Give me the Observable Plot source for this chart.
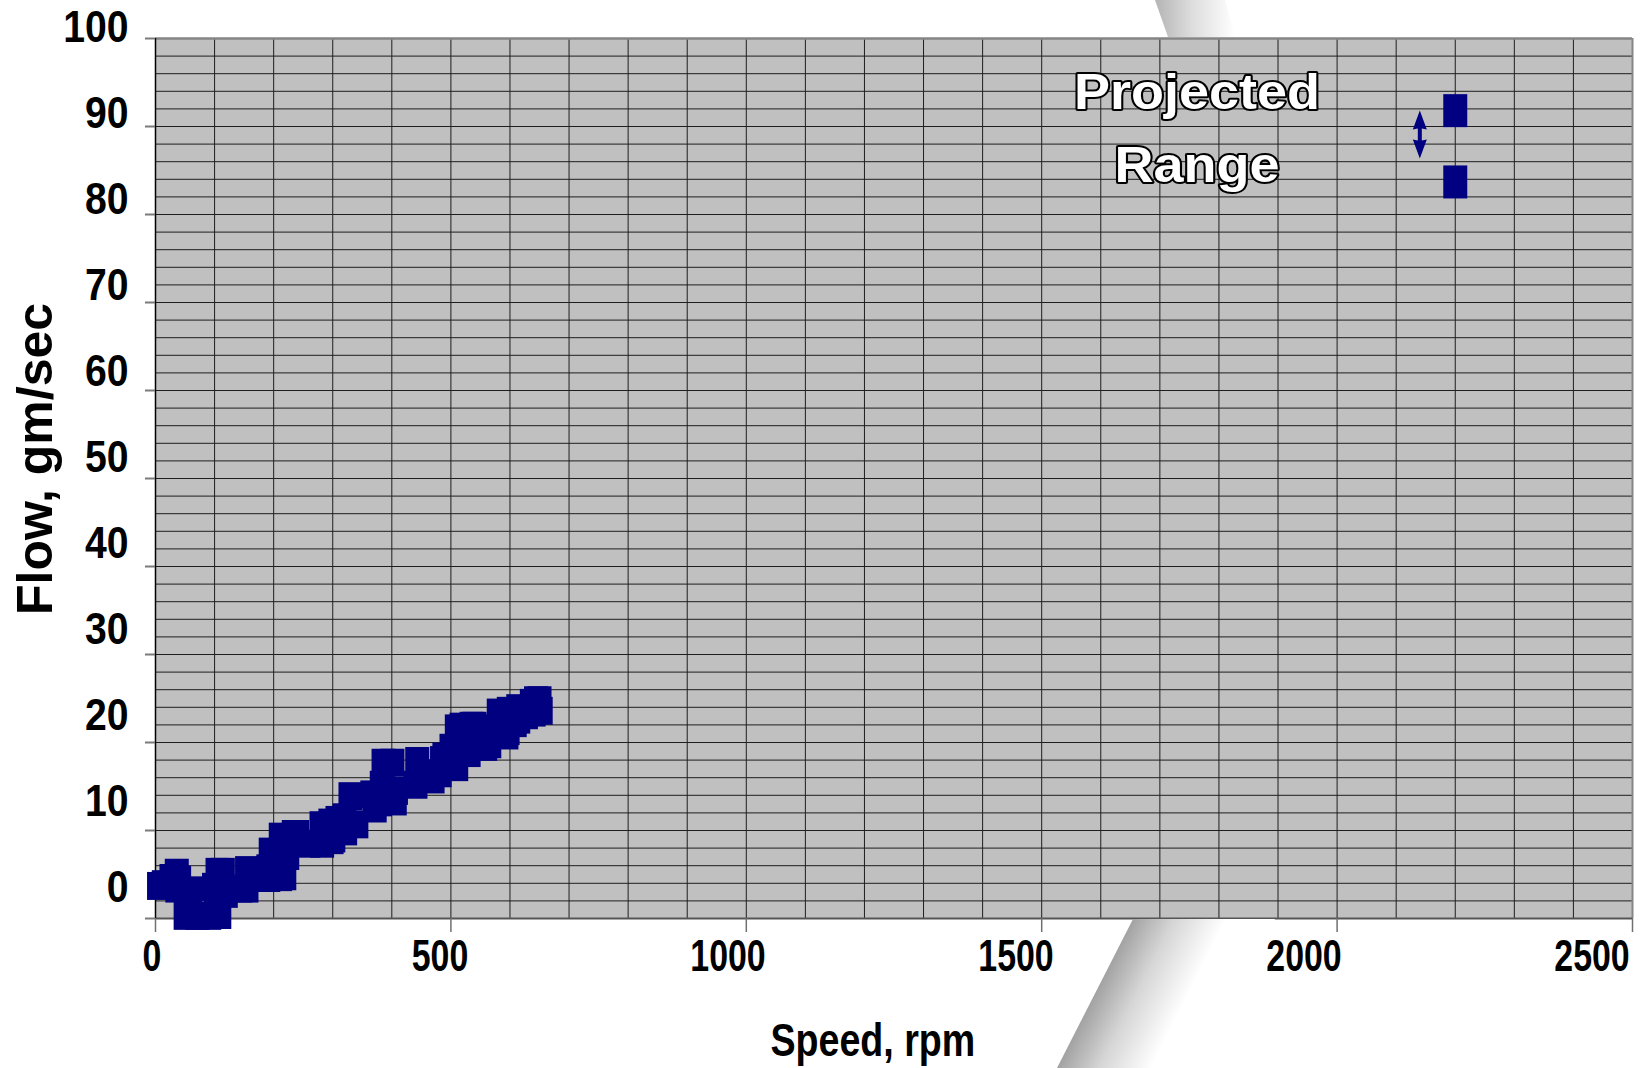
<!DOCTYPE html>
<html>
<head>
<meta charset="utf-8">
<script src="https://cdn.jsdelivr.net/npm/d3@7"></script>
<script src="https://cdn.jsdelivr.net/npm/@observablehq/plot@0.6"></script>
<style>
  html, body { margin: 0; padding: 0; background: #fff; overflow: hidden; }
  #wrap { position: relative; width: 1642px; height: 1068px; }
  #wrap svg { position: absolute; left: 0; top: 0; }
</style>
</head>
<body>
<div id="wrap"></div>
<script>
// ---- data ----
const speedRpm = [6, 14, 27, 36, 37, 40, 51, 59, 71, 91, 99, 102, 105, 108, 114, 119, 144, 154, 155,
  191, 191, 195, 203, 211, 212, 218, 223, 234, 240, 259, 281, 282, 296, 298, 301, 308, 320, 321,
  330, 340, 367, 371, 380, 383, 386, 401, 405, 407, 440, 443, 469, 481, 485, 489, 501, 509, 510,
  513, 518, 530, 535, 540, 558, 565, 570, 581, 594, 596, 598, 608, 614, 614, 627, 637, 640, 644, 650, 652];
const flowGmSec = [3.7, 3.9, 4.6, 5.2, 3.4, 4.4, 0.3, 3.2, 0.3, 0.3, 3.6, 2.8, 5.3, 0.4, 5.3, 2.8, 3.4, 3.4, 5.5,
  5.7, 4.6, 7.6, 6.9, 4.7, 9.3, 4.8, 7.1, 9.6, 9.6, 8.5, 10.6, 8.5, 10.9, 8.9, 9.1, 11.2, 11.5, 9.9,
  13.9, 10.7, 14.1, 12.5, 13.2, 15.2, 17.7, 17.7, 13.3, 14.5, 15.2, 17.9, 15.8, 16.5, 18.0, 18.4, 19.4, 17.2, 21.6,
  19.4, 21.8, 18.8, 21.9, 21.9, 19.5, 19.8, 21.6, 23.4, 20.8, 21.3, 23.6, 22.2, 23.9, 22.6, 23.1, 24.5, 23.4, 24.8, 24.8, 23.6];

const projectedRpm = [2200, 2200];
const projectedFlow = [91.8, 83.7];

const arrowRpm = [2140];
const arrowFlow = [89.1];

const noteText = ["Projected", "Range"];
const noteRpm = [1763, 1763];
const noteFlow = [93.8, 85.5];

const xTicks = [0, 500, 1000, 1500, 2000, 2500];
const yTicks = [0, 10, 20, 30, 40, 50, 60, 70, 80, 90, 100];
const xGrid = d3.range(0, 2501, 100);
const yGrid = d3.range(0, 101, 2);

const xTitle = ["Speed, rpm"];
const yTitle = ["Flow, gm/sec"];

// ---- tables built from the arrays ----
const measured = speedRpm.map((s, i) => ({rpm: s, flow: flowGmSec[i]}));
const projected = projectedRpm.map((s, i) => ({rpm: s, flow: projectedFlow[i]}));
const arrows = arrowRpm.map((s, i) => ({rpm: s, flow: arrowFlow[i]}));
const notes = noteText.map((t, i) => ({text: t, rpm: noteRpm[i], flow: noteFlow[i]}));

// ---- custom marker shapes ----
const smallMarker = {draw(ctx) { ctx.moveTo(-12, -14); ctx.lineTo(12, -14); ctx.lineTo(12, 14); ctx.lineTo(-12, 14); ctx.closePath(); }};
const bigMarker = {draw(ctx) { ctx.moveTo(-12, -16.5); ctx.lineTo(12, -16.5); ctx.lineTo(12, 16.5); ctx.lineTo(-12, 16.5); ctx.closePath(); }};
const doubleArrow = {draw(ctx) {
  ctx.moveTo(0, -24); ctx.lineTo(7, -5); ctx.lineTo(2, -6); ctx.lineTo(2, 6); ctx.lineTo(7, 5);
  ctx.lineTo(0, 24); ctx.lineTo(-7, 5); ctx.lineTo(-2, 6); ctx.lineTo(-2, -6); ctx.lineTo(-7, -5); ctx.closePath();
}};

const FONT = "'Liberation Sans', Arial, Helvetica, sans-serif";
const W = 1642, H = 1068;
const margins = {marginLeft: 155, marginRight: 10, marginTop: 38, marginBottom: 150};

const main = Plot.plot({
  width: W, height: H, ...margins,
  style: {background: "white", fontFamily: FONT},
  x: {domain: [0, 2500], label: null},
  y: {domain: [0, 100], label: null},
  marks: [
    Plot.frame({fill: "#c0c0c0", stroke: null}),
    Plot.gridX(xGrid, {stroke: "#1e1e1e", strokeOpacity: 1, strokeWidth: 1}),
    Plot.gridY(yGrid, {stroke: "#1e1e1e", strokeOpacity: 1, strokeWidth: 1}),
    Plot.ruleY([100], {stroke: "#858585", strokeWidth: 2.5}),
    Plot.ruleX([2500], {stroke: "#858585", strokeWidth: 2}),
    Plot.ruleY([0], {stroke: "#555", strokeWidth: 2}),
    Plot.ruleX([0], {stroke: "#000", strokeWidth: 1.5}),
    Plot.axisX(xTicks, {tickSize: 14, tickFormat: () => "", stroke: "#707070", strokeWidth: 1.5, label: null}),
    Plot.axisY(yTicks, {tickSize: 10, tickFormat: () => "", stroke: "#7a7a7a", strokeWidth: 2, label: null}),
    Plot.dot(measured, {x: "rpm", y: "flow", symbol: smallMarker, fill: "#000080", stroke: null}),
    Plot.dot(projected, {x: "rpm", y: "flow", symbol: bigMarker, fill: "#000080", stroke: null}),
    Plot.dot(arrows, {x: "rpm", y: "flow", symbol: doubleArrow, fill: "#000080", stroke: null}),
    Plot.text(notes, {x: "rpm", y: "flow", text: "text", fontSize: 50, fontWeight: "bold",
      fill: "white", stroke: "black", strokeWidth: 4, paintOrder: "stroke", strokeLinejoin: "round",
      textAnchor: "middle", lineAnchor: "middle"}),
    Plot.text(xTitle, {text: d => d, frameAnchor: "bottom-left", textAnchor: "start", lineAnchor: "bottom",
      dx: 615, dy: 137, fontSize: 47, fontWeight: "bold", fill: "black"}),
    Plot.text(yTitle, {text: d => d, frameAnchor: "left", rotate: -90, textAnchor: "middle", lineAnchor: "bottom",
      dx: -104, dy: -19.5, fontSize: 50, fontWeight: "bold", fill: "black"})
  ]
});

// Tick labels: the original drawing places its labels on a slightly compressed scale
const xLabels = Plot.plot({
  width: W, height: H, ...margins,
  style: {background: "none", fontFamily: FONT},
  x: {domain: [0, 2500], range: [151.5, 1591.5], axis: null},
  marks: [
    Plot.text(xTicks, {x: d => d, text: d => String(d), frameAnchor: "bottom", lineAnchor: "bottom", dy: 52,
      fontSize: 44, fontWeight: "bold", fill: "black"})
  ]
});
const yLabels = Plot.plot({
  width: W, height: H, ...margins,
  style: {background: "none", fontFamily: FONT},
  y: {domain: [0, 100], range: [887, 27.5], axis: null},
  marks: [
    Plot.text(yTicks, {y: d => d, text: d => String(d), frameAnchor: "left", textAnchor: "end", lineAnchor: "middle", dx: -27,
      fontSize: 44, fontWeight: "bold", fill: "black"})
  ]
});

const wrap = document.getElementById("wrap");
wrap.appendChild(main);
wrap.appendChild(xLabels);
wrap.appendChild(yLabels);

// the original's text is horizontally condensed (or widened) around each anchor
function squeeze(sel, sx) {
  sel.each(function () {
    const t = this.getAttribute("transform") || "";
    this.setAttribute("transform", t + ` scale(${sx},1)`);
  });
}
squeeze(d3.select(xLabels).selectAll("text"), 0.77);
squeeze(d3.select(yLabels).selectAll("text"), 0.89);
squeeze(d3.select(main).selectAll("text").filter(function () { return this.textContent === xTitle[0]; }), 0.8);
squeeze(d3.select(main).selectAll("text").filter(function () { return noteText.includes(this.textContent); }), 1.08);

// page-curl shading of the original slide
const svg = d3.select(main);
const defs = svg.append("defs");
const g1 = defs.append("linearGradient").attr("id", "curlTop").attr("x1", "0").attr("x2", "1").attr("y1", "0").attr("y2", "0");
g1.append("stop").attr("offset", "0").attr("stop-color", "#b4b4b4");
g1.append("stop").attr("offset", "0.45").attr("stop-color", "#dcdcdc");
g1.append("stop").attr("offset", "1").attr("stop-color", "#ffffff");
const g2 = defs.append("linearGradient").attr("id", "curlBottom").attr("gradientUnits", "userSpaceOnUse")
  .attr("x1", 1095).attr("y1", 993).attr("x2", 1170).attr("y2", 1031);
g2.append("stop").attr("offset", "0").attr("stop-color", "#a2a2a2");
g2.append("stop").attr("offset", "0.45").attr("stop-color", "#d6d6d6");
g2.append("stop").attr("offset", "1").attr("stop-color", "#ffffff");
svg.append("polygon").attr("points", "1155,0 1168,37 1235,37 1225,0").attr("fill", "url(#curlTop)");
svg.append("polygon").attr("points", "1133,919 1057,1068 1200,1068 1275,919").attr("fill", "url(#curlBottom)");
</script>
</body>
</html>
